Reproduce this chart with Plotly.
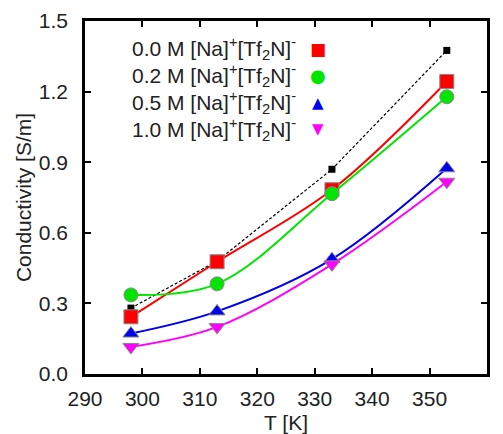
import plotly.graph_objects as go

T = [298, 313, 333, 353]
ref_black = [0.28, 0.48, 0.87, 1.375]
c00 = [0.243, 0.477, 0.783, 1.243]
c02 = [0.336, 0.383, 0.766, 1.178]
c05 = [0.172, 0.266, 0.488, 0.874]
c10 = [0.115, 0.200, 0.466, 0.817]

labels = ["0.0 M [Na]<sup>+</sup>[Tf<sub>2</sub>N]<sup>-</sup>",
          "0.2 M [Na]<sup>+</sup>[Tf<sub>2</sub>N]<sup>-</sup>",
          "0.5 M [Na]<sup>+</sup>[Tf<sub>2</sub>N]<sup>-</sup>",
          "1.0 M [Na]<sup>+</sup>[Tf<sub>2</sub>N]<sup>-</sup>"]
colors = ["#ff0000", "#00e600", "#0000ee", "#ff00ff"]
symbols = ["square", "circle", "triangle-up", "triangle-down"]
glyphs = ["■", "●", "▲", "▼"]
glyph_sizes = [17, 18, 15, 15]
series = [c00, c02, c05, c10]

FONT = "Liberation Sans, Arial, sans-serif"
TXT = "#222222"
fig = go.Figure()
fig.add_trace(go.Scatter(x=T, y=ref_black, mode="lines+markers",
                         line=dict(color="black", width=1.2, dash="3px,2px"),
                         marker=dict(symbol="square", size=7, color="black"),
                         showlegend=False))
for ys, c, s in zip(series, colors, symbols):
    fig.add_trace(go.Scatter(x=T, y=ys, mode="lines+markers",
                             line=dict(color=c, width=2, shape="spline", smoothing=1.0),
                             marker=dict(symbol=s, size=14, color=c,
                                         line=dict(color="#888888", width=1)),
                             showlegend=False))

for i, (lab, c, g, gs) in enumerate(zip(labels, colors, glyphs, glyph_sizes)):
    yp = 0.921 - i * 0.076
    fig.add_annotation(xref="paper", yref="paper", x=0.53, y=yp, text=lab,
                       showarrow=False, xanchor="right", yanchor="middle",
                       font=dict(family=FONT, size=21, color=TXT))
    fig.add_annotation(xref="paper", yref="paper", x=0.58, y=yp, text=g,
                       showarrow=False, xanchor="center", yanchor="middle",
                       font=dict(family="DejaVu Sans", size=gs, color=c))

axis_common = dict(showline=True, linecolor="black", linewidth=2.5, mirror="ticks",
                   ticks="inside", ticklen=6, tickwidth=2, tickcolor="black",
                   showgrid=False, zeroline=False, automargin=False,
                   tickfont=dict(family=FONT, size=21, color=TXT))
fig.update_xaxes(range=[290, 360], tick0=290, dtick=10, ticklabelstandoff=4,
                 title=dict(text="T [K]", font=dict(family=FONT, size=21, color=TXT), standoff=8),
                 **axis_common)
fig.update_yaxes(range=[0, 1.5], tick0=0, dtick=0.3, tickformat=".1f", ticklabelstandoff=10,
                 title=dict(text="Conductivity [S/m]", font=dict(family=FONT, size=21, color=TXT), standoff=2),
                 **axis_common)
fig.update_layout(width=503, height=434, margin=dict(l=85, r=16, t=21, b=60),
                  plot_bgcolor="white", paper_bgcolor="white")
fig.write_html("out.html")
